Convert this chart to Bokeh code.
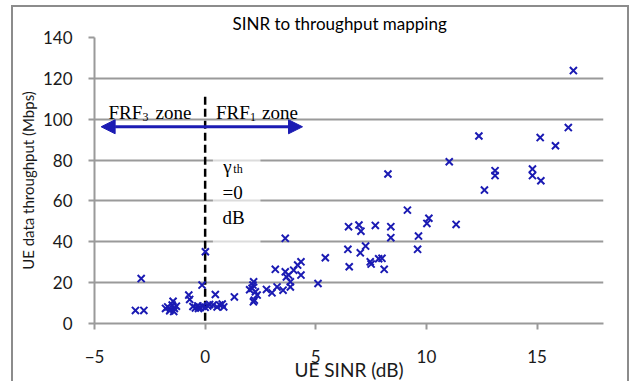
from bokeh.plotting import figure
from bokeh.models import Arrow, NormalHead, Label, SingleIntervalTicker, Range1d
from bokeh.embed import file_html
from bokeh.resources import INLINE

# UE samples: SINR (dB) and measured data throughput (Mbps)
sinr = [
    -3.15, -2.77, -2.89,
    -1.79, -1.69, -1.57, -1.49, -1.45, -1.39, -1.30, -1.60, -1.42,
    -0.74, -0.70, -0.14, 0.01,
    -0.55, -0.44, -0.33, -0.22, -0.12, 0.00, 0.12, 0.20, -0.30,
    0.46, 0.36, 0.54, 0.66, 0.77, 0.84, 1.32,
    2.01, 2.12, 2.16, 2.19, 2.27, 2.35, 2.22, 2.18,
    2.77, 3.02, 3.17, 3.25, 3.52, 3.62, 3.67, 3.77, 3.85, 3.85, 4.00, 4.18, 4.33, 4.33, 3.62,
    5.10, 5.43,
    6.45, 6.51, 6.48, 6.95, 7.04, 7.01, 7.25, 7.46, 7.50, 7.69, 7.84, 7.99, 8.09, 8.39, 8.39, 8.26,
    9.14, 9.60, 9.64, 10.02, 10.11, 11.34, 11.03,
    12.37, 12.62, 13.10, 13.10, 14.79, 14.79, 15.17, 15.14, 15.83, 16.41, 16.64,
]
throughput = [
    6.4, 6.4, 22.0,
    7.4, 8.1, 6.9, 9.0, 10.9, 7.4, 8.5, 6.2, 5.9,
    13.9, 11.8, 18.8, 35.1,
    8.3, 7.6, 8.6, 7.8, 8.4, 7.9, 8.6, 9.3, 7.4,
    14.2, 9.0, 8.1, 9.0, 9.5, 8.1, 13.0,
    16.5, 17.2, 18.8, 20.4, 15.5, 13.9, 11.4, 10.6,
    16.7, 15.0, 26.5, 17.9, 16.3, 25.3, 22.8, 23.7, 20.4, 17.9, 26.1, 28.6, 30.2, 23.7, 41.7,
    19.6, 32.2,
    36.3, 27.8, 47.4, 48.2, 45.2, 34.6, 37.9, 30.2, 29.1, 48.0, 31.7, 31.9, 26.5, 47.4, 42.0, 73.2,
    55.5, 36.3, 42.8, 49.0, 51.5, 48.5, 79.2,
    91.8, 65.3, 74.8, 72.4, 75.6, 72.4, 69.9, 91.0, 87.0, 95.9, 123.8,
]

threshold_db = 0          # FRF switching threshold
arrow_level = 96.3        # height of the zone arrow (Mbps axis)
x_limits = (-5, 18)
y_limits = (0, 140)

BLUE = "#1b1bb3"
GRID = "#9a9a9a"
FRAME = "#8c8c8c"
SANS = "Lato"
SERIF = "Liberation Serif"

p = figure(width=618, height=376, output_backend="svg", toolbar_location=None,
           x_range=Range1d(*x_limits), y_range=Range1d(*y_limits),
           min_border_left=81, min_border_right=28,
           min_border_top=30, min_border_bottom=60,
           background_fill_color="white", border_fill_color="white")
p.outline_line_color = None
# chart-area frame drawn around the canvas (open at the bottom)
p.margin = (5, 0, 0, 11)
p.styles = {
    "border-left": f"2px solid {FRAME}",
    "border-top": f"2px solid {FRAME}",
    "border-right": f"2px solid {FRAME}",
}

# title, left-anchored so it sits centred over the whole chart area
p.title.text = "SINR to throughput mapping"
p.title.align = "left"
p.title.offset = 138
p.title.standoff = 7
p.title.text_font = SANS
p.title.text_font_size = "17px"
p.title.text_font_style = "normal"
p.title.text_color = "black"

# axes
for ax in (p.xaxis[0], p.yaxis[0]):
    ax.axis_line_color = GRID
    ax.axis_line_width = 2
    ax.major_tick_line_color = GRID
    ax.major_tick_line_width = 2
    ax.major_tick_in = 0
    ax.major_tick_out = 6
    ax.minor_tick_line_color = None
    ax.major_label_text_font = SANS
    ax.major_label_text_font_size = "17px"
    ax.major_label_text_color = "#1a1a1a"
    ax.axis_label_text_font = SANS
    ax.axis_label_text_font_style = "normal"
    ax.axis_label_text_color = "#1a1a1a"

p.xaxis.ticker = SingleIntervalTicker(interval=5)
p.yaxis.ticker = SingleIntervalTicker(interval=20)
p.xaxis.axis_label = "UE SINR (dB)"
p.xaxis.axis_label_text_font_size = "19px"
p.xaxis.major_label_standoff = 20
p.xaxis.axis_label_standoff = -8
p.yaxis.axis_label = "UE data throughput (Mbps)"
p.yaxis.axis_label_text_font_size = "15px"
p.yaxis.major_label_standoff = 16
p.yaxis.axis_label_standoff = 3

p.xgrid.grid_line_color = None
p.ygrid.grid_line_color = GRID
p.ygrid.grid_line_width = 2
p.ygrid.ticker = SingleIntervalTicker(interval=20)

# translucent box behind the threshold note
p.quad(left=[0.35], right=[2.5], bottom=[38], top=[83],
       fill_color="white", fill_alpha=0.65, line_color=None)

# threshold marker
p.line([threshold_db, threshold_db], [111, -6], line_color="black",
       line_width=2.5, line_dash="8 4")

# samples
p.scatter(sinr, throughput, marker="x", size=10, line_color=BLUE, line_width=2)

# zone arrow
p.add_layout(Arrow(x_start=-4.7, y_start=arrow_level, x_end=4.4, y_end=arrow_level,
                   line_color=BLUE, line_width=3,
                   start=NormalHead(size=14, fill_color=BLUE, line_color=BLUE),
                   end=NormalHead(size=14, fill_color=BLUE, line_color=BLUE)))


def note(x, y, text, size, x_offset=0, y_offset=0):
    p.add_layout(Label(x=x, y=y, text=text, x_offset=x_offset, y_offset=y_offset,
                       text_font=SERIF, text_font_size=f"{size}px",
                       text_color="black", text_baseline="alphabetic",
                       text_align="left"))


# zone captions
note(-4.37, 103.1, "FRF", 19)
note(-4.37, 103.1, "3", 12, x_offset=34, y_offset=-4)
note(-4.37, 103.1, "zone", 19, x_offset=47)
note(0.49, 103.1, "FRF", 19)
note(0.49, 103.1, "1", 12, x_offset=34, y_offset=-4)
note(0.49, 103.1, "zone", 19, x_offset=46)

# threshold caption
note(0.82, 76.9, "\u03b3", 19)
note(0.82, 76.9, "th", 12, x_offset=10, y_offset=-3)
note(0.78, 63.9, "=0", 19)
note(0.78, 52.1, "dB", 19)

open("out.html", "w").write(file_html(p, INLINE))
